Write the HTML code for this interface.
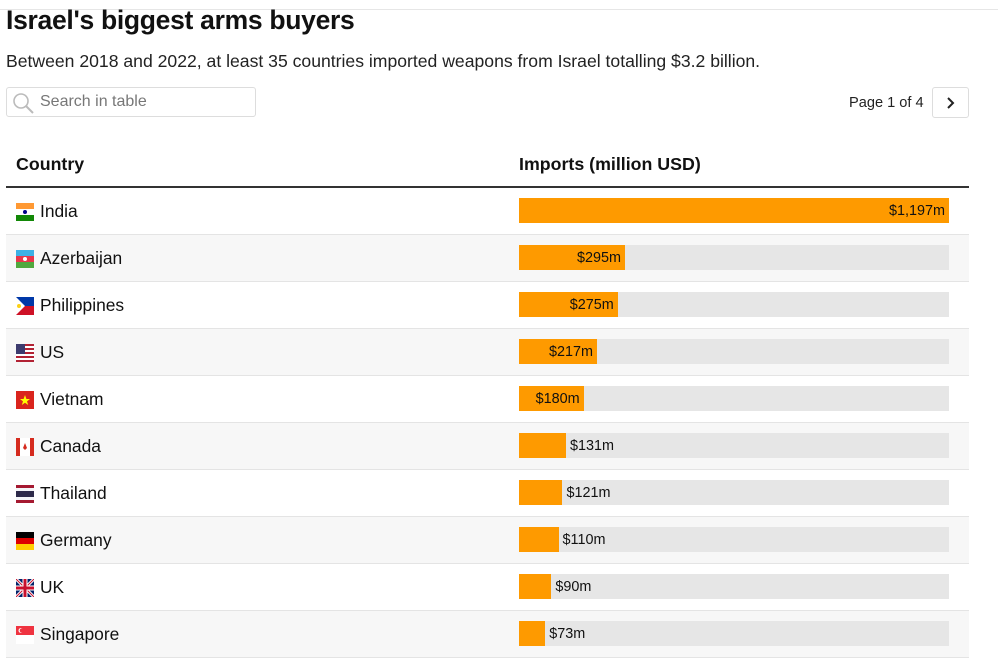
<!DOCTYPE html>
<html><head><meta charset="utf-8">
<style>
body{margin:0;width:998px;height:665px;overflow:hidden;background:#fff;font-family:"Liberation Sans",sans-serif;color:#111;position:relative}
.topline{position:absolute;left:0;right:0;top:9px;height:1px;background:#e6e6e6}
h1{position:absolute;left:6px;top:5px;margin:0;font-size:26.5px;font-weight:bold;letter-spacing:-0.3px}
.sub{position:absolute;left:6px;top:51px;font-size:17.6px;color:#222}
.search{position:absolute;left:6px;top:87px;width:250px;height:30px;border:1px solid #ddd;border-radius:3px;box-sizing:border-box}
.search span{position:absolute;left:33px;top:5px;font-size:16px;color:#777}
.search svg{position:absolute;left:5px;top:4px}
.page{position:absolute;left:849px;top:95px;font-size:14.6px;color:#222}
.next{position:absolute;left:932px;top:87px;width:37px;height:31px;border:1px solid #ddd;border-radius:3px;box-sizing:border-box}
.th{position:absolute;top:154px;font-size:17.8px;font-weight:bold}
.hline{position:absolute;left:6px;width:963px;top:186px;height:2px;background:#333}
.row{position:absolute;left:6px;width:963px;height:47px;border-bottom:1px solid #e4e4e4;box-sizing:border-box}
.flag{position:absolute;left:10px;top:15px;width:18px;height:18px}
.name{position:absolute;left:34px;top:13px;font-size:17.4px}
.track{position:absolute;left:513px;top:10px;width:430px;height:25px;background:#e6e6e6}
.bar{position:absolute;left:0;top:0;height:25px;background:#fe9a00}
.lab{position:absolute;top:5px;font-size:14.4px;color:#111;white-space:nowrap}
</style></head><body>
<div class="topline"></div>
<h1>Israel's biggest arms buyers</h1>
<div class="sub">Between 2018 and 2022, at least 35 countries imported weapons from Israel totalling $3.2 billion.</div>
<div class="search"><svg width="24" height="22"><circle cx="9" cy="9" r="7" fill="none" stroke="#bbb" stroke-width="1.6"/><line x1="14" y1="14" x2="21" y2="21" stroke="#bbb" stroke-width="2"/></svg><span>Search in table</span></div>
<div class="page">Page 1 of 4</div>
<div class="next"><svg width="35" height="29"><polyline points="15,10 20,15 15,20" fill="none" stroke="#222" stroke-width="2"/></svg></div>
<div class="th" style="left:16px">Country</div>
<div class="th" style="left:519px">Imports (million USD)</div>
<div class="hline"></div>
<div id="rows"></div>
<script>
const countries=["India","Azerbaijan","Philippines","US","Vietnam","Canada","Thailand","Germany","UK","Singapore"];
const imports=[1197,295,275,217,180,131,121,110,90,73];
const flags={
India:'<rect width="18" height="6" fill="#f93"/><rect y="6" width="18" height="6" fill="#fff"/><rect y="12" width="18" height="6" fill="#128807"/><circle cx="9" cy="9" r="2" fill="#008"/>',
Azerbaijan:'<rect width="18" height="6" fill="#3cb1e6"/><rect y="6" width="18" height="6" fill="#e8364b"/><rect y="12" width="18" height="6" fill="#50a83e"/><circle cx="9" cy="9" r="2" fill="#fff"/>',
Philippines:'<rect width="18" height="9" fill="#0038a8"/><rect y="9" width="18" height="9" fill="#ce1126"/><polygon points="0,0 9,9 0,18" fill="#fff"/><circle cx="3" cy="9" r="2" fill="#fcd116"/>',
US:'<rect width="18" height="18" fill="#fff"/><rect y="0" width="18" height="2" fill="#b22234"/><rect y="4" width="18" height="2" fill="#b22234"/><rect y="8" width="18" height="2" fill="#b22234"/><rect y="12" width="18" height="2" fill="#b22234"/><rect y="16" width="18" height="2" fill="#b22234"/><rect width="9" height="10" fill="#3c3b6e"/>',
Vietnam:'<rect width="18" height="18" fill="#da251d"/><polygon points="9,4 10.4,8 14,8 11,10.4 12.2,14 9,11.8 5.8,14 7,10.4 4,8 7.6,8" fill="#ff0"/>',
Canada:'<rect width="18" height="18" fill="#fff"/><rect width="4" height="18" fill="#d52b1e"/><rect x="14" width="4" height="18" fill="#d52b1e"/><polygon points="9,5 11,10 9,12 7,10" fill="#d52b1e"/>',
Thailand:'<rect width="18" height="18" fill="#a51931"/><rect y="3" width="18" height="12" fill="#f4f5f8"/><rect y="6" width="18" height="6" fill="#2d2a4a"/>',
Germany:'<rect width="18" height="6" fill="#000"/><rect y="6" width="18" height="6" fill="#d00"/><rect y="12" width="18" height="6" fill="#ffce00"/>',
UK:'<rect width="18" height="18" fill="#012169"/><path d="M0,0L18,18M18,0L0,18" stroke="#fff" stroke-width="3"/><path d="M0,0L18,18M18,0L0,18" stroke="#c8102e" stroke-width="1"/><path d="M9,0V18M0,9H18" stroke="#fff" stroke-width="5"/><path d="M9,0V18M0,9H18" stroke="#c8102e" stroke-width="3"/>',
Singapore:'<rect width="18" height="9" fill="#ef3340"/><rect y="9" width="18" height="9" fill="#fff"/><circle cx="5" cy="4.5" r="2.5" fill="#fff"/><circle cx="6" cy="4.5" r="2.3" fill="#ef3340"/>'
};
const maxVal=Math.max(...imports);
const trackW=430;
const x=v=>v/maxVal*trackW;
const wrap=document.getElementById('rows');
countries.forEach((c,i)=>{
  const r=document.createElement('div');
  r.className='row';
  
  
  r.style.top=(188+i*47)+'px';
  r.style.background=i%2? '#f7f7f7':'#fff';
  const w=x(imports[i]);
  const lbl='$'+imports[i].toLocaleString('en-US')+'m';
  const inside=w>60;
  r.innerHTML='<svg class="flag" viewBox="0 0 18 18">'+flags[c]+'</svg><div class="name">'+c+'</div><div class="track"><div class="bar" style="width:'+w+'px"></div><div class="lab" style="'+(inside?('right:'+(trackW-w+4)+'px'):('left:'+(w+4)+'px'))+'">'+lbl+'</div></div>';
  const f=r.querySelector('.flag');
  
  
  const n=r.querySelector('.name');
  
  
  const t=r.querySelector('.track');
  
  
  const b=r.querySelector('.bar');
  
  
  const l=r.querySelector('.lab');
  
  
  wrap.appendChild(r);
});
</script>
</body></html>
